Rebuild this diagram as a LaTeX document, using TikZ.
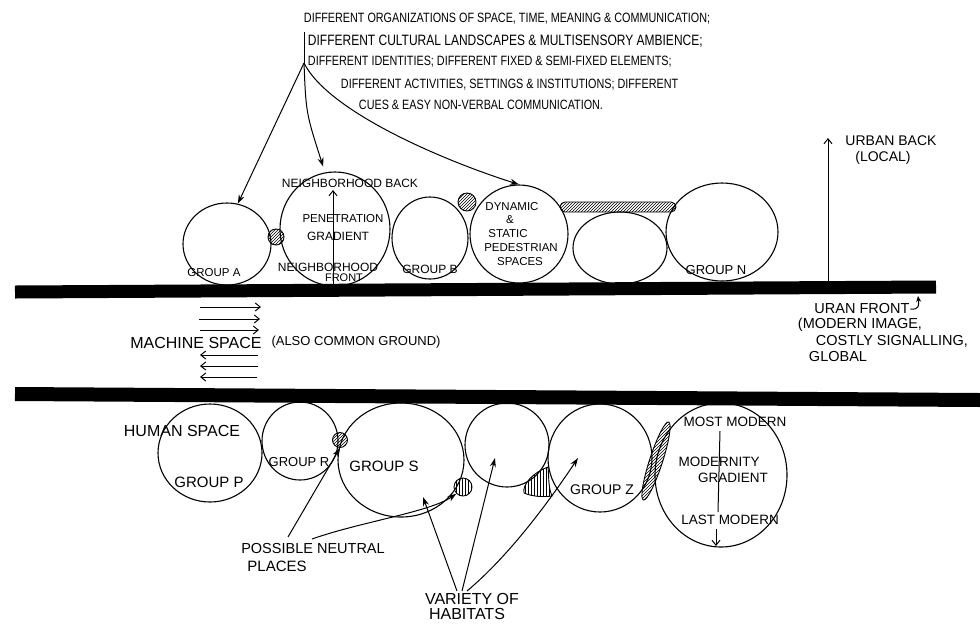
\documentclass[tikz,border=0pt]{standalone}
\usepackage{fontspec}
\usetikzlibrary{arrows.meta,shapes.geometric,patterns}
\newfontfamily\handfont{Liberation Sans}
\newfontfamily\handnarrow[FakeStretch=0.8]{Liberation Sans}
\tikzset{
  hand/.style={font=\handfont\fontsize{#1}{#1}\selectfont, inner sep=0.75pt},
  hand/.default=13,
  note/.style={font=\handnarrow\fontsize{#1}{#1}\selectfont, inner sep=0.75pt, anchor=west},
  note/.default=14,
  habitat/.style={draw, ellipse, inner sep=0pt, line width=1.1pt},
  hatch/.style={draw, line width=0.9pt, pattern=north east lines},
  road/.style={line width=#1, line cap=butt},
  pointer/.style={-{Stealth[length=9pt,width=6pt]}, line width=1pt},
  barb/.style={-{Straight Barb[length=5pt,width=8pt]}, line width=1pt},
}
\begin{document}
\begin{tikzpicture}[x=1pt,y=1pt,yscale=-1,xscale=1]
\useasboundingbox (0,0) rectangle (980,625);

%Roads
\coordinate (roadTL) at (15,292);
\coordinate (roadTR) at (936,287);
\coordinate (roadBL) at (15,394);
\coordinate (roadBR) at (980,400);
\draw [road=13pt] (roadTL) -- (roadTR);
\draw [road=14pt] (roadBL) -- (roadBR);

%Shape: Ellipses, urban back side
\node [habitat, minimum width=88pt, minimum height=82pt] (grpA) at (227,244) {};
\node [habitat, minimum width=110pt, minimum height=114pt] (nbh) at (335,229) {};
\node [habitat, minimum width=76pt, minimum height=82pt] (grpB) at (430,238) {};
\node [habitat, minimum width=98pt, minimum height=98pt] (dyn) at (519,234) {};
\node [habitat, minimum width=94pt, minimum height=72pt] (anonT) at (620,248) {};
\node [habitat, minimum width=112pt, minimum height=98pt] (grpN) at (722,232) {};
%Shape: hatched neutral places
\node [hatch, circle, minimum size=16pt, inner sep=0pt] (neuA) at (276,237) {};
\node [hatch, circle, minimum size=18pt, inner sep=0pt] (neuB) at (467,202) {};
\node [hatch, rectangle, rounded corners=5pt, minimum width=116pt, minimum height=10pt, inner sep=0pt] (neuBar) at (618,207) {};

%Shape: Ellipses, human space side
\node [habitat, minimum width=104pt, minimum height=98pt] (grpP) at (210,453) {};
\node [habitat, minimum width=76pt, minimum height=78pt] (grpR) at (300,441) {};
\node [habitat, minimum width=126pt, minimum height=114pt] (grpS) at (401,460) {};
\node [habitat, minimum width=84pt, minimum height=84pt] (anonB) at (507,445) {};
\node [habitat, minimum width=104pt, minimum height=108pt] (grpZ) at (600,458) {};
\node [habitat, minimum width=132pt, minimum height=144pt] (mod) at (721,475) {};
%Shape: hatched neutral places
\node [hatch, circle, minimum size=15pt, inner sep=0pt] (neuR) at (340,440) {};
\node [hatch, pattern=vertical lines, circle, minimum size=18pt, inner sep=0pt] (neuS) at (463,487) {};
\draw [hatch, pattern=vertical lines] (548,467) .. controls (534,472) and (522,484) .. (524,493) .. controls (533,497) and (545,497) .. (552,496) .. controls (548,487) and (549,476) .. cycle;
\node [hatch, ellipse, minimum width=82pt, minimum height=13pt, inner sep=0pt, rotate=72] (neuZ) at (656,461) {};

% Text Node
\node [note=13.5] (note1) at (303,19) {DIFFERENT ORGANIZATIONS OF SPACE, TIME, MEANING \& COMMUNICATION;};
% Text Node
\node [note=15] (note2) at (307,41) {DIFFERENT CULTURAL LANDSCAPES \& MULTISENSORY AMBIENCE;};
% Text Node
\node [note=13.5] (note3) at (307,62) {DIFFERENT IDENTITIES; DIFFERENT FIXED \& SEMI-FIXED ELEMENTS;};
% Text Node
\node [note=13.5] (note4) at (340,85) {DIFFERENT ACTIVITIES, SETTINGS \& INSTITUTIONS; DIFFERENT};
% Text Node
\node [note=13.5] (note5) at (358,105) {CUES \& EASY NON-VERBAL COMMUNICATION.};

%Straight Lines: fan of arrows from the notes
\coordinate (fanTop) at (304,32);
\coordinate (fan) at (304,63);
\draw [line width=1pt] (fanTop) -- (fan);
\draw [pointer] (fan) -- (grpA.75);
\draw [pointer, shorten >=6pt] (fan) .. controls +(2,50) .. (nbh.100);
\draw [pointer] (fan) .. controls +(25,50) and +(-70,-22) .. (dyn.north);

% Text Node
\node [hand=11.5] (lblA) at (214,273) {GROUP A};
% Text Node
\node [hand=12] (lblBack) at (350,183) {NEIGHBORHOOD BACK};
% Text Node
\node [hand=11.5] (lblPen) at (343,219) {PENETRATION};
% Text Node
\node [hand=12] (lblGrad) at (338,236) {GRADIENT};
% Text Node
\node [hand=12] (lblNbh) at (328,267) {NEIGHBORHOOD};
% Text Node
\node [hand=11] (lblFront) at (344,278) {FRONT};
\coordinate (penFoot) at (333,284);
\coordinate (penTip) at (333,190);
\draw [barb] (penFoot) -- (penTip);
% Text Node
\node [hand=12] (lblB) at (430,269) {GROUP B};
% Text Node
\node [hand=11.5] (lblDyn1) at (512,207) {DYNAMIC};
\node [hand=11.5] (lblDyn2) at (510,220) {\&};
\node [hand=11.5] (lblDyn3) at (508,234) {STATIC};
\node [hand=11.5] (lblDyn4) at (521,248) {PEDESTRIAN};
\node [hand=11.5] (lblDyn5) at (520,262) {SPACES};
% Text Node
\node [hand=13] (lblN) at (716,270) {GROUP N};

%Urban back and front
\coordinate (ubFoot) at (828,281);
\coordinate (ubTip) at (828,138);
\draw [barb] (ubFoot) -- (ubTip);
\node [hand=14] (lblUB1) at (891,141) {URBAN BACK};
\node [hand=14] (lblUB2) at (883,158) {(LOCAL)};
\node [hand=14.5] (lblUF1) at (862,309) {URAN FRONT};
\node [hand=14.5] (lblUF2) at (860,325) {(MODERN IMAGE,};
\node [hand=14.5] (lblUF3) at (892,341) {COSTLY SIGNALLING,};
\node [hand=14.5] (lblUF4) at (838,356) {GLOBAL};
\coordinate (ufTip) at (918,296);
\draw [line width=1pt, -{Stealth[length=6pt,width=5pt]}] (lblUF1.east) .. controls +(9,1) and +(1,9) .. (ufTip);

%Machine space arrows
\coordinate (mR1s) at (200,307); \coordinate (mR1e) at (261,307);
\coordinate (mR2s) at (199,319); \coordinate (mR2e) at (260,319);
\coordinate (mR3s) at (200,330); \coordinate (mR3e) at (259,330);
\coordinate (mL1s) at (258,355); \coordinate (mL1e) at (200,355);
\coordinate (mL2s) at (258,366); \coordinate (mL2e) at (200,366);
\coordinate (mL3s) at (257,377); \coordinate (mL3e) at (200,377);
\draw [barb] (mR1s) -- (mR1e);
\draw [barb] (mR2s) -- (mR2e);
\draw [barb] (mR3s) -- (mR3e);
\draw [barb] (mL1s) -- (mL1e);
\draw [barb] (mL2s) -- (mL2e);
\draw [barb] (mL3s) -- (mL3e);
% Text Node
\node [hand=16] (lblMach) at (196,343) {MACHINE SPACE};
% Text Node
\node [hand=13] (lblCommon) at (356,342) {(ALSO COMMON GROUND)};

% Text Node
\node [hand=16] (lblHuman) at (182,431) {HUMAN SPACE};
% Text Node
\node [hand=15] (lblP) at (209,482) {GROUP P};
% Text Node
\node [hand=13] (lblR) at (299,462) {GROUP R};
% Text Node
\node [hand=15] (lblS) at (384,466) {GROUP S};
% Text Node
\node [hand=14] (lblZ) at (602,490) {GROUP Z};
% Text Node
\node [hand=13.5] (lblMost) at (735,422) {MOST MODERN};
\node [hand=13.5] (lblMod1) at (719,462) {MODERNITY};
\node [hand=13.5] (lblMod2) at (733,478) {GRADIENT};
\node [hand=13.5] (lblLast) at (730,520) {LAST MODERN};
\coordinate (modTop) at (720,431);
\coordinate (modBot) at (718,512);
\coordinate (modArrS) at (716,529);
\coordinate (modArrE) at (716,546);
\draw [line width=1pt] (modTop) -- (modBot);
\draw [barb] (modArrS) -- (modArrE);

%Possible neutral places
\node [hand=14.5] (lblPoss1) at (313,548) {POSSIBLE NEUTRAL};
\node [hand=15] (lblPoss2) at (277,566) {PLACES};
\coordinate (possA) at (288,537);
\coordinate (possB) at (312,539);
\draw [pointer] (possA) -- (neuR.south);
\draw [pointer] (possB) .. controls (360,522) and (430,512) .. (neuS.225);

%Variety of habitats
\node [hand=16] (lblVar1) at (472,599) {VARIETY OF};
\node [hand=16] (lblVar2) at (467,614) {HABITATS};
\coordinate (varA) at (457,591);
\coordinate (varB) at (462,591);
\coordinate (varC) at (467,591);
\coordinate (habS) at (423,497);
\coordinate (habM) at (495,458);
\coordinate (habZ) at (578,458);
\draw [pointer] (varA) -- (habS);
\draw [pointer] (varB) -- (habM);
\draw [pointer] (varC) .. controls (510,555) and (550,500) .. (habZ);

\end{tikzpicture}
\end{document}
